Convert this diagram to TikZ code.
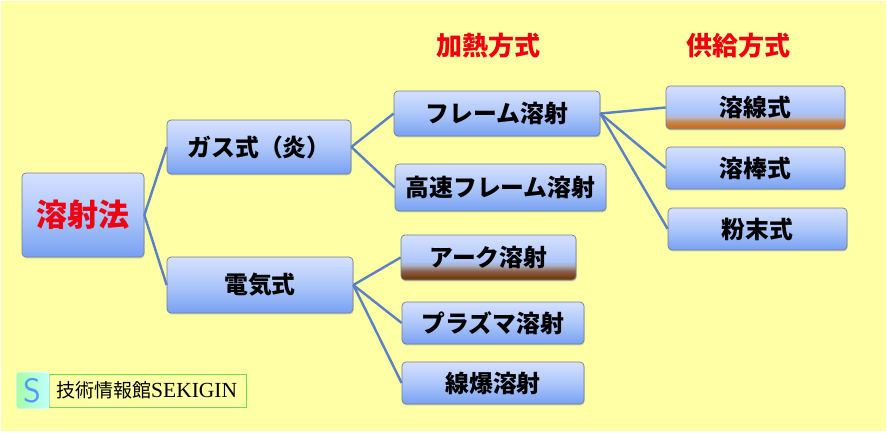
\documentclass[tikz,border=0pt]{standalone}
\usepackage{fontspec}
\usetikzlibrary{shadows}
\setmainfont{Noto Sans CJK JP}
\newfontfamily\lat{Liberation Serif}
\definecolor{bgyellow}{HTML}{FFFFA6}
\definecolor{linkblue}{HTML}{5B80C4}
\definecolor{edgegrey}{HTML}{6F7F98}
\definecolor{titlered}{HTML}{F00010}
\definecolor{logogreen}{HTML}{6ADF55}
\pgfdeclareverticalshading{bluebox}{100bp}{rgb(0bp)=(0.47,0.63,0.95);rgb(25bp)=(0.47,0.63,0.95);rgb(50bp)=(0.68,0.78,0.98);rgb(75bp)=(0.84,0.88,1);rgb(100bp)=(0.84,0.88,1)}
\pgfdeclareverticalshading{orangebox}{100bp}{rgb(0bp)=(0.78,0.44,0.16);rgb(28bp)=(0.78,0.44,0.16);rgb(34bp)=(0.78,0.55,0.34);rgb(39bp)=(0.72,0.72,0.80);rgb(44bp)=(0.66,0.76,0.98);rgb(75bp)=(0.84,0.88,1);rgb(100bp)=(0.84,0.88,1)}
\pgfdeclareverticalshading{brownbox}{100bp}{rgb(0bp)=(0.45,0.24,0.08);rgb(28bp)=(0.45,0.24,0.08);rgb(35bp)=(0.55,0.38,0.28);rgb(41bp)=(0.66,0.68,0.76);rgb(46bp)=(0.68,0.78,0.98);rgb(75bp)=(0.84,0.88,1);rgb(100bp)=(0.84,0.88,1)}
\tikzset{
 x=1pt,y=-1pt,
 box/.style={rounded corners=4pt,draw=edgegrey,line width=0.7pt,shading=bluebox,
   drop shadow={shadow xshift=0.6pt,shadow yshift=-1.4pt,opacity=.35},
   inner sep=0pt,font=\bfseries\fontsize{23.8}{28}\selectfont,text=black},
 link/.style={draw=linkblue,line width=2.4pt},
 heading/.style={inner sep=0pt,text=titlered,font=\bfseries\fontsize{26}{30}\selectfont},
}
\newcommand{\boxat}[7][box]{\node[#1,minimum width=#4pt-#2pt,minimum height=#5pt-#3pt] (#6) at ({(#2+#4)/2},{(#3+#5)/2}) {#7};}
\begin{document}
\begin{tikzpicture}
\useasboundingbox (0,0) rectangle (887,432);
\fill[white] (0,0) rectangle (887,432);
\fill[bgyellow] (1,1) rectangle (886,431);
\boxat{22}{173}{144}{257}{root}{}
\node[inner sep=0pt,text=titlered,font=\bfseries\fontsize{31}{36}\selectfont] (roott) at (root.center) {溶射法};
\boxat{167}{120}{351}{174}{gas}{ガス式（炎）}
\boxat{167}{257}{353}{313}{elec}{電気式}
\boxat{394}{91}{600}{136}{flame}{フレーム溶射}
\boxat{395}{164}{606}{211}{hvof}{高速フレーム溶射}
\boxat[box,shading=brownbox]{401}{235}{576}{280}{arc}{アーク溶射}
\boxat{402}{302}{584}{344}{plasma}{プラズマ溶射}
\boxat{402}{362}{584}{404}{wire}{線爆溶射}
\boxat[box,shading=orangebox]{666}{86}{845}{129}{sen}{溶線式}
\boxat{666}{147}{845}{189}{bou}{溶棒式}
\boxat{668}{208}{847}{250}{pow}{粉末式}
\node[heading] (h1) at (488.5,46) {加熱方式};
\node[heading] (h2) at (738.5,46) {供給方式};
\draw[link] (root.east) -- (gas.west);
\draw[link] (root.east) -- (elec.west);
\draw[link] (gas.east) -- (flame.west);
\draw[link] (gas.east) -- (hvof.west);
\draw[link] (elec.east) -- (arc.west);
\draw[link] (elec.east) -- (plasma.west);
\draw[link] (elec.east) -- (wire.west);
\draw[link] (flame.east) -- (sen.west);
\draw[link] (flame.east) -- (bou.west);
\draw[link] (flame.east) -- (pow.west);
% logo
\node[draw=logogreen,line width=0.9pt,minimum width=197pt,minimum height=33pt,inner sep=0pt] (logo) at (147.5,390.5) {};
\node[inner sep=0pt,anchor=west,font=\fontsize{19}{22}\selectfont] (logot) at (56,390.5) {技術情報館{\lat\fontsize{21.5}{22}\selectfont SEKIGIN}};
\node[rounded corners=3pt,draw=white,line width=0.6pt,left color=green!35!white,right color=cyan!25!white,minimum width=33pt,minimum height=37pt,inner sep=0pt,text=blue!55!cyan!70!white,font=\sffamily\fontsize{34}{34}\selectfont] (icon) at (32.5,390.5) {S};
\end{tikzpicture}
\end{document}
